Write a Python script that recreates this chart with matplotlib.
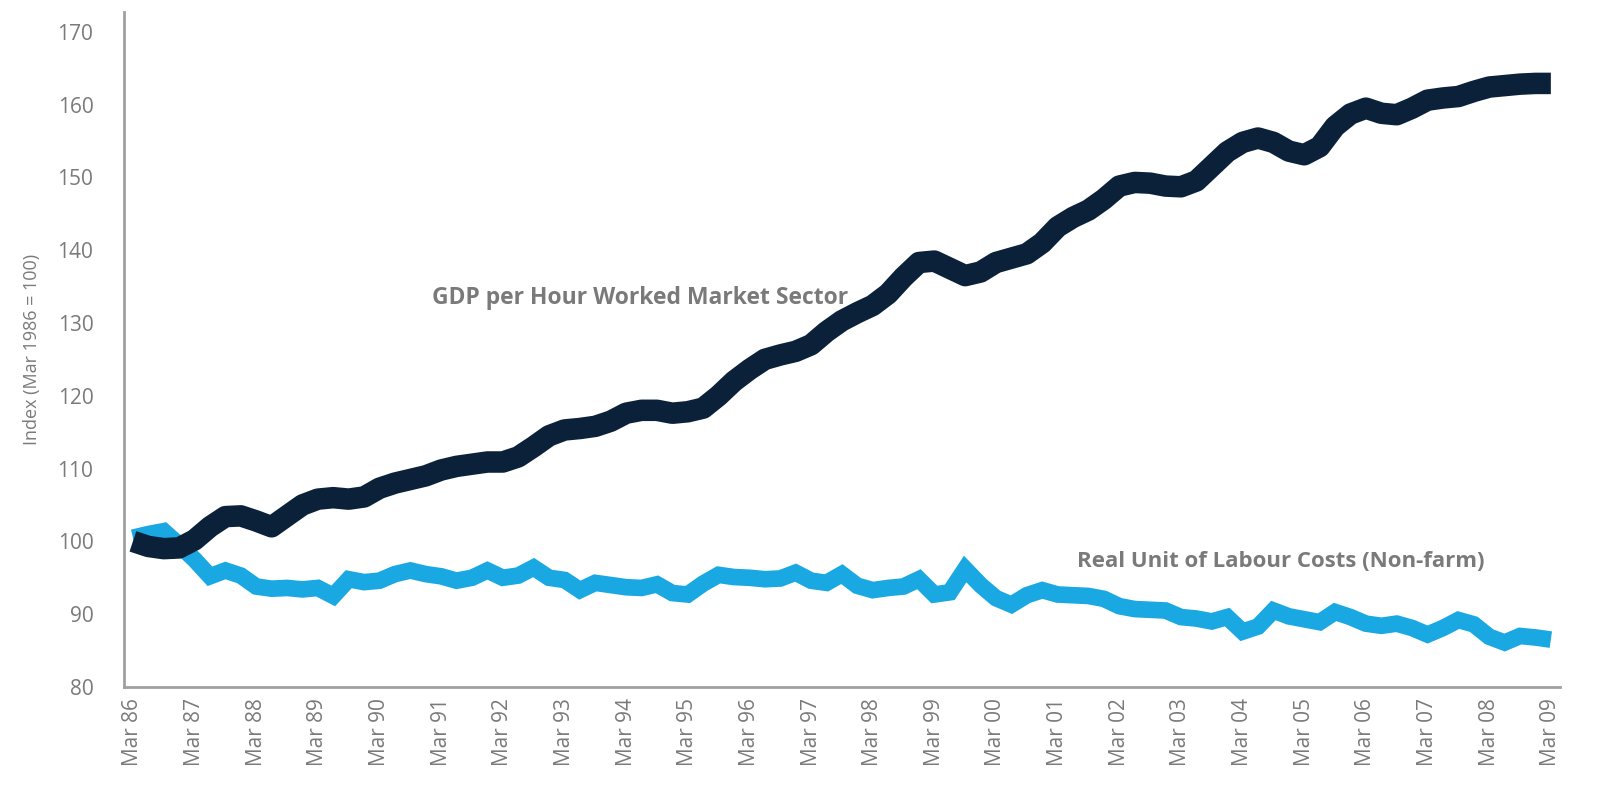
import numpy as np
import matplotlib.pyplot as plt

# =============================================================================
# Data (quarterly, Mar 1986 - Mar 2009, index Mar 1986 = 100)

years = ["86", "87", "88", "89", "90", "91", "92", "93", "94", "95", "96", "97",
         "98", "99", "00", "01", "02", "03", "04", "05", "06", "07", "08", "09"]
tick_labels = ["Mar " + y for y in years]

gdp_per_hour = [
    100.0, 99.3, 99.0, 99.1, 100.2, 102.0, 103.4, 103.5,
    102.8, 102.0, 103.5, 105.0, 105.8, 106.0, 105.8, 106.1,
    107.3, 108.0, 108.5, 109.0, 109.8, 110.3, 110.6, 110.9,
    110.9, 111.6, 113.0, 114.5, 115.3, 115.5, 115.8, 116.5,
    117.6, 118.0, 118.0, 117.6, 117.8, 118.3, 120.0, 122.0,
    123.6, 125.0, 125.6, 126.1, 127.0, 128.8, 130.3, 131.4,
    132.4, 134.0, 136.3, 138.3, 138.5, 137.5, 136.5, 137.0,
    138.3, 138.9, 139.5, 141.0, 143.2, 144.5, 145.5, 147.0,
    148.8, 149.3, 149.2, 148.8, 148.7, 149.5, 151.5, 153.5,
    154.8, 155.4, 154.8, 153.6, 153.1, 154.2, 157.0, 158.7,
    159.5, 158.8, 158.6, 159.5, 160.6, 160.9, 161.1, 161.8,
    162.4, 162.6, 162.8, 162.9, 162.9,
]

rulc_nonfarm = [
    100.5, 101.0, 101.4, 99.5, 97.5, 95.2, 96.0, 95.3,
    93.8, 93.5, 93.6, 93.4, 93.6, 92.5, 94.8, 94.4,
    94.6, 95.5, 96.0, 95.5, 95.2, 94.6, 95.0, 96.0,
    95.0, 95.3, 96.4, 95.0, 94.7, 93.3, 94.3, 94.0,
    93.7, 93.6, 94.1, 92.9, 92.7, 94.2, 95.4, 95.1,
    95.0, 94.8, 94.9, 95.7, 94.6, 94.3, 95.5, 93.9,
    93.3, 93.6, 93.8, 94.8, 92.7, 93.0, 96.2, 94.0,
    92.2, 91.3, 92.6, 93.3, 92.7, 92.6, 92.5, 92.1,
    91.1, 90.7, 90.6, 90.5, 89.6, 89.4, 89.0, 89.6,
    87.6, 88.3, 90.5, 89.7, 89.3, 88.9, 90.3, 89.6,
    88.7, 88.4, 88.7, 88.1, 87.2, 88.1, 89.2, 88.6,
    86.9, 86.1, 87.0, 86.8, 86.5,
]

x = np.arange(len(gdp_per_hour))

# =============================================================================
# Plot

GREY = "#7a7a7a"
fg = plt.figure(figsize=(16.1, 7.94), dpi=100)
ax = fg.add_axes([0.077, 0.1348, 0.892, 0.850])

ax.plot(x, rulc_nonfarm, color="#1aa8e3", lw=12, solid_joinstyle="miter",
        solid_capstyle="butt")
ax.plot(x, gdp_per_hour, color="#0b2139", lw=15.5, solid_joinstyle="round",
        solid_capstyle="butt")

ax.text(32.9, 133.4, "GDP per Hour Worked Market Sector", fontsize=16.5,
        fontweight="bold", color=GREY, ha="center", va="center",
        family="Open Sans")
ax.text(74.5, 97.3, "Real Unit of Labour Costs (Non-farm)", fontsize=16,
        fontweight="bold", color=GREY, ha="center", va="center",
        family="Open Sans")

ax.set_xlim(-0.58, 92.6)
ax.set_ylim(80, 172.7)
ax.set_yticks(np.arange(80, 171, 10))
ax.set_xticks(np.arange(0, len(x), 4))
ax.set_xticklabels(tick_labels, rotation=90, family="Open Sans")
for lbl in ax.get_yticklabels():
    lbl.set_family("Open Sans")

for s in ["top", "right"]:
    ax.spines[s].set_visible(False)
for s in ["left", "bottom"]:
    ax.spines[s].set_color("#a0a0a0")
    ax.spines[s].set_linewidth(2)

ax.tick_params(axis="y", length=0, pad=22, labelsize=15, labelcolor=GREY)
ax.tick_params(axis="x", length=0, pad=8, labelsize=15, labelcolor=GREY)
ax.set_ylabel("Index (Mar 1986 = 100)", fontsize=13, color=GREY, labelpad=12,
              family="Open Sans")

fg.savefig("out.png", dpi=100)
